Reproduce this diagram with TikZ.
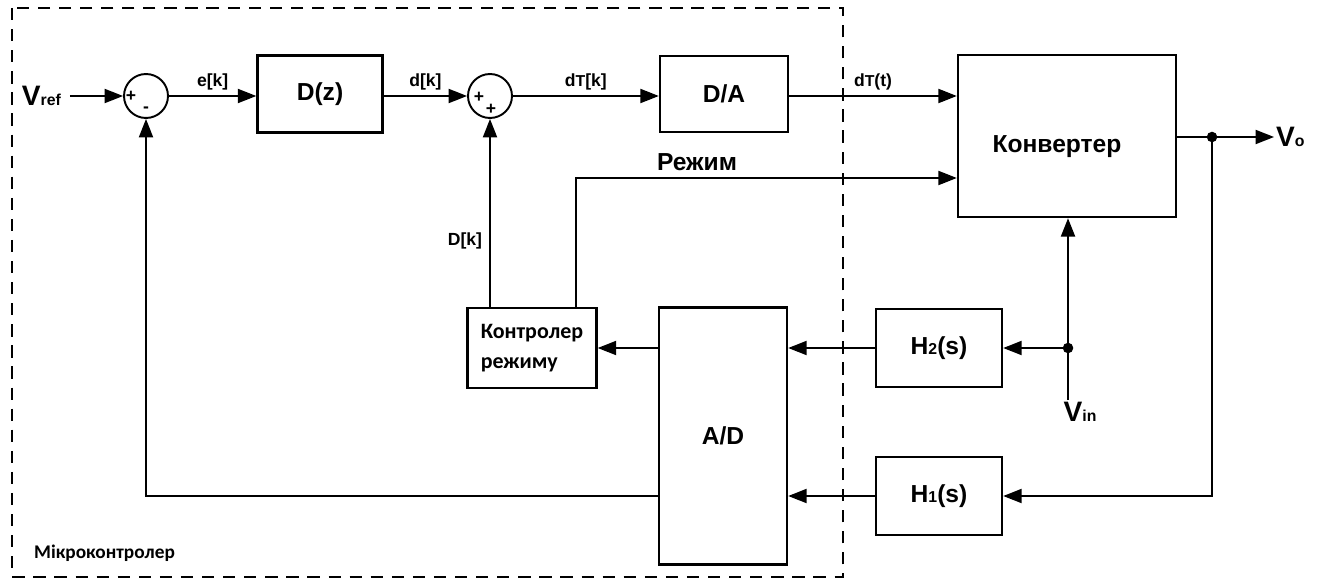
\documentclass[tikz,border=0pt]{standalone}
\usepackage{fontspec}
\setmainfont{Liberation Sans}
\newfontfamily\calib{Carlito}
\usetikzlibrary{arrows.meta,positioning,calc}

\newcommand{\bigV}[1]{{\fontsize{16}{16}\selectfont #1}}
\newcommand{\smlsub}[1]{{\fontsize{9}{9}\selectfont #1}}

\begin{document}
\begin{tikzpicture}[x=0.02cm,y=-0.02cm,
		font=\bfseries,
		block/.style={draw, line width=1.4pt, inner sep=0pt, align=center},
		summer/.style={draw, line width=1.1pt, circle, minimum size=0.88cm, inner sep=0pt},
		sign/.style={font=\bfseries\fontsize{10}{10}\selectfont, inner sep=0pt},
		conn/.style={line width=1.1pt},
		arr/.style={conn, -{Triangle[length=10.5pt,width=8pt]}},
		lbl/.style={font=\bfseries\fontsize{10}{12}\selectfont, inner sep=1pt},
		dot/.style={circle, fill, inner sep=0pt, minimum size=6pt}]
		\useasboundingbox (0,0) rectangle (1317,581);

		% microcontroller border
		\draw[line width=1.1pt, dash pattern=on 7pt off 5pt] (12,8) rectangle (843,577);
		\node[font=\calib\bfseries\fontsize{11}{13}\selectfont, anchor=west] (mclbl) at (28,553) {Мікроконтролер};

		% forward path
		\node[anchor=east, inner sep=1pt] (vref) at (63,96) {\bigV{V}\smlsub{ref}};
		\node[summer] (s1) at (146,96) {};
		\node[sign] at (131,96) {+};
		\node[sign] at (146,110) {-};
		\node[block, minimum width=2.5cm, minimum height=1.54cm, font=\bfseries\fontsize{14}{16}\selectfont] (dz) at (320,94) {D(z)};
		\node[summer] (s2) at (490,96) {};
		\node[sign] at (479,97) {+};
		\node[sign] at (491,109) {+};
		\node[block, minimum width=2.56cm, minimum height=1.52cm, font=\bfseries\fontsize{14}{16}\selectfont] (da) at (724,94) {D/A};
		\node[block, minimum width=4.36cm, minimum height=3.24cm, text height=0.71cm, text depth=0.05cm, font=\bfseries\fontsize{14}{16}\selectfont] (konv) at (1067,136) {Конвертер\hspace{0.4cm}};
		\coordinate (vo) at (1212,137);
		\node[dot] at (vo) {};
		\node[anchor=west, inner sep=1pt] (volbl) at (1274,137) {\bigV{V}\smlsub{o}};

		\draw[arr] ([xshift=0.14cm]vref.east) -- (s1.west);
		\draw[arr] (s1.east) -- (s1.east -| dz.west) node[lbl, midway, above=2pt] {e[k]};
		\draw[arr] (dz.east |- s2) -- (s2.west) node[lbl, midway, above=2pt] {d[k]};
		\draw[arr] (s2.east) -- (s2 -| da.west) node[lbl, midway, above=2pt] {d\smlsub{T}[k]};
		\draw[arr] (da.east |- s2) -- (s2 -| konv.west) node[lbl, midway, above=2pt] {d\smlsub{T}(t)};
		\draw[conn] (konv.east |- vo) -- (vo);
		\draw[arr] (vo) -- (volbl.west);

		% mode controller and A/D
		\node[block, minimum width=2.58cm, minimum height=1.6cm, align=left, font=\calib\bfseries\fontsize{12.5}{17}\selectfont] (kontr) at (532,348) {Контролер\\режиму};
		\node[block, minimum width=2.56cm, minimum height=5.14cm, font=\bfseries\fontsize{14}{16}\selectfont] (ad) at (723,436) {A/D};
		\node[block, minimum width=2.52cm, minimum height=1.56cm, font=\bfseries\fontsize{14}{16}\selectfont] (h2) at (939,348) {H\smlsub{2}(s)};
		\node[block, minimum width=2.52cm, minimum height=1.56cm, font=\bfseries\fontsize{14}{16}\selectfont] (h1) at (939,496) {H\smlsub{1}(s)};

		\draw[arr] (s2.south |- kontr.north) -- (s2.south) node[lbl, pos=0.35, left=3pt] {D[k]};
		\coordinate (rezh) at (576,178);
		\draw[arr] (rezh |- kontr.north) -- (rezh) -- (rezh -| konv.west);
		\node[font=\bfseries\fontsize{14}{16}\selectfont] (rezhlbl) at (697,162) {Режим};

		\draw[arr] (ad.west |- kontr) -- (kontr.east);
		\draw[arr] (h2.west) -- (ad.east |- h2);
		\coordinate (vin) at (1068,348);
		\coordinate (vinend) at (1068,400);
		\node[dot] at (vin) {};
		\node[inner sep=1pt] (vinlbl) at (1080,412) {\bigV{V}\smlsub{in}};
		\draw[arr] (vinend) -- (konv.south -| vin);
		\draw[arr] (vin) -- (h2.east);

		% feedback
		\draw[arr] (vo) |- (h1.east);
		\draw[arr] (h1.west) -- (ad.east |- h1);
		\draw[arr] (ad.west |- h1) -| (s1.south);
	\end{tikzpicture}
\end{document}
